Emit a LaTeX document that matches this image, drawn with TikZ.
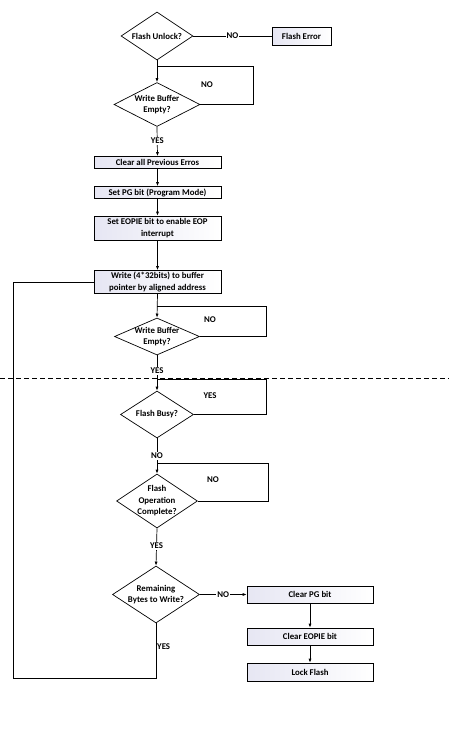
\documentclass[tikz,border=0pt]{standalone}
\usepackage{fontspec}
\setmainfont{Carlito}
\usetikzlibrary{shapes.geometric,arrows.meta}
\definecolor{boxl}{RGB}{230,230,243}
\begin{document}
\begin{tikzpicture}[x=1pt,y=-1pt,
  every node/.style={font=\fontsize{8.8}{11.5}\selectfont\bfseries},
  dia/.style={draw, diamond, inner sep=0pt, line width=0.7pt},
  dtxt/.style={align=center, inner sep=0pt},
  box/.style={draw, rectangle, inner sep=0pt, minimum width=127pt, align=center, left color=boxl, right color=white, line width=0.7pt},
  lbl/.style={fill=white, inner sep=1pt},
  ln/.style={line width=0.7pt},
  arr/.style={ln, -{Latex[length=4pt,width=3pt]}}]
\useasboundingbox (0,0) rectangle (449,731);

% decisions
\node[dia, minimum width=72pt, minimum height=48pt, label={[dtxt]center:Flash Unlock?}] (d1) at (157,36) {};
\node[dia, minimum width=86pt, minimum height=44pt, label={[dtxt]center:Write Buffer\\Empty?}] (d2) at (157,104.5) {};
\node[dia, minimum width=85pt, minimum height=37pt, label={[dtxt]center:Write Buffer\\Empty?}] (d3) at (157,336.5) {};
\node[dia, minimum width=73pt, minimum height=47pt, label={[dtxt]center:Flash Busy?}] (d4) at (157,414.5) {};
\node[dia, minimum width=81pt, minimum height=54pt, label={[dtxt]center:Flash\\Operation\\Complete?}] (d5) at (157,501) {};
\node[dia, minimum width=87pt, minimum height=57pt, label={[dtxt]center:Remaining\\Bytes to Write?}] (d6) at (156,594.5) {};

% boxes
\node[box, minimum width=59pt, minimum height=18pt] (err) at (301.5,36) {Flash Error};
\node[box, minimum height=12pt] (b1) at (157.5,162.5) {Clear all Previous Erros};
\node[box, minimum height=12pt] (b2) at (157.5,192.5) {Set PG bit (Program Mode)};
\node[box, minimum height=24pt] (b3) at (157.5,228) {Set EOPIE bit to enable EOP\\interrupt};
\node[box, minimum height=23pt] (b4) at (157.5,282) {Write (4*32bits) to buffer\\pointer by aligned address};
\node[box, minimum height=17pt, minimum width=126pt] (c1) at (310,594.5) {Clear PG bit};
\node[box, minimum height=17pt, minimum width=126pt] (c2) at (310,636.5) {Clear EOPIE bit};
\node[box, minimum height=18pt, minimum width=126pt] (c3) at (310,672) {Lock Flash};

% loop corners
\coordinate (l2a) at (157,66);  \coordinate (l2b) at (253,66);
\coordinate (l3a) at (157,306); \coordinate (l3b) at (266,306);
\coordinate (l4a) at (157,379); \coordinate (l4b) at (266,379);
\coordinate (l5a) at (157,463); \coordinate (l5b) at (268,463);
\coordinate (l6a) at (156,678); \coordinate (l6b) at (13,678);

% connectors
\draw[ln] (d1.east) -- node[lbl]{NO} (err.west);
\draw[arr] (d1.south) -- (d2.north);
\draw[ln] (l2a) -- (l2b) |- (d2.east);
\node[lbl] (n2) at (207,85) {NO};
\draw[arr] (d2.south) -- node[lbl,pos=0.48]{YES} (b1.north);
\draw[arr] (b1.south) -- (b2.north);
\draw[arr] (b2.south) -- (b3.north);
\draw[arr] (b3.south) -- (b4.north);
\draw[arr] (b4.south) -- (d3.north);
\draw[ln] (l3a) -- (l3b) |- (d3.east);
\node[lbl] (n3) at (210,320) {NO};
\draw[dashed, line width=0.6pt, dash pattern=on 5pt off 3pt] (0,378) -- (449,378);
\draw[arr] (d3.south) -- node[lbl,pos=0.44]{YES} (d4.north);
\draw[ln] (l4a) -- (l4b) |- (d4.east);
\node[lbl] (n4) at (210,396) {YES};
\draw[arr] (d4.south) -- node[lbl,pos=0.5]{NO} (d5.north);
\draw[ln] (l5a) -- (l5b) |- (d5.east);
\node[lbl] (n5) at (213,480) {NO};
\draw[arr] (d5.south) -- node[lbl,pos=0.47]{YES} (d6.north);
\draw[arr] (d6.east) -- node[lbl,pos=0.5]{NO} (c1.west);
\draw[arr] (c1.south) -- (c2.north);
\draw[arr] (c2.south) -- (c3.north);
\draw[ln] (d6.south) -- (l6a) -- (l6b) |- (b4.west);
\node[anchor=west, inner sep=0pt] (n6) at (157,647) {YES};
\end{tikzpicture}
\end{document}
